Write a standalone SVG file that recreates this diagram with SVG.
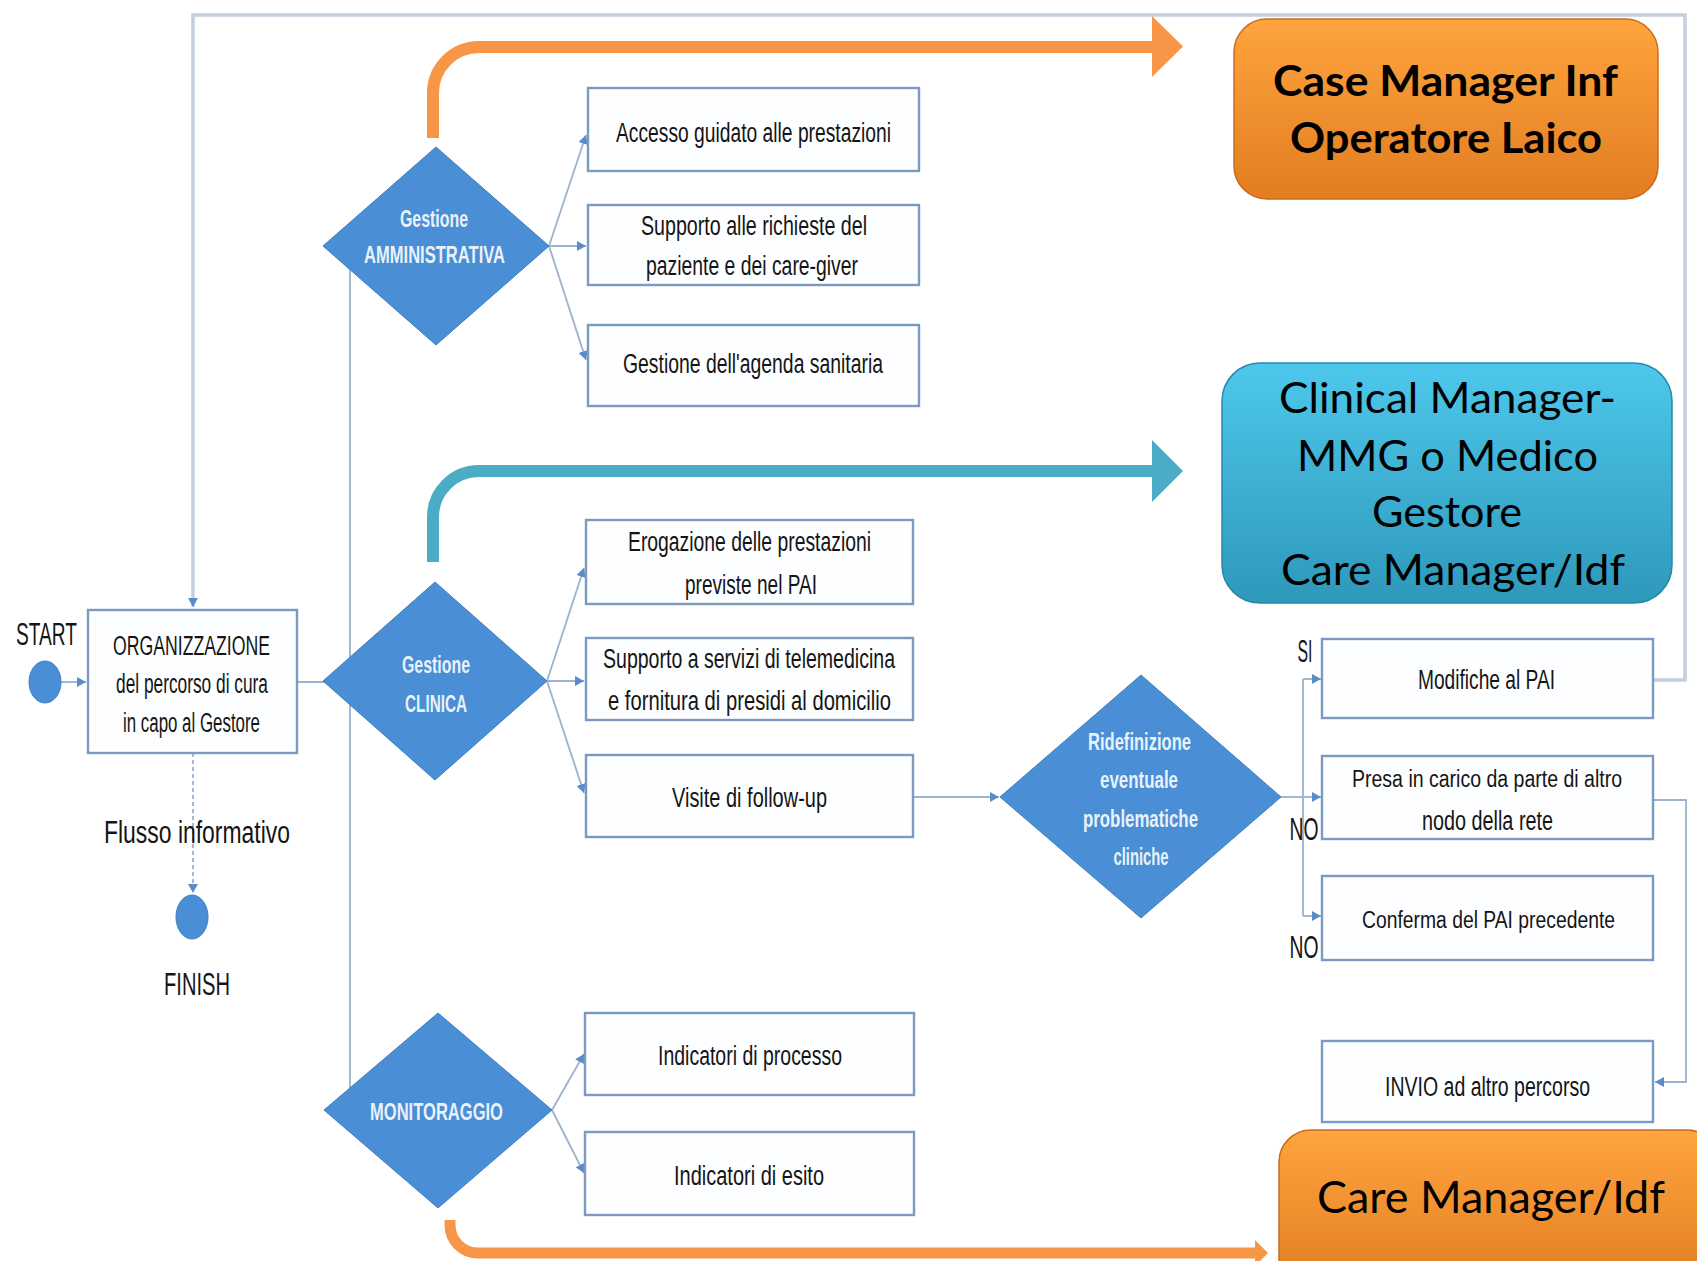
<svg xmlns="http://www.w3.org/2000/svg" width="1697" height="1261" viewBox="0 0 1697 1261">
<style>
.box{fill:#FDFEFF;stroke:#7C9AC0;stroke-width:2.4}
.t{font-family:"Liberation Sans",Arial,sans-serif;font-size:27px;fill:#151515;text-anchor:middle}
.lbl{font-family:"Liberation Sans",Arial,sans-serif;font-size:31px;fill:#151515;text-anchor:middle}
.dt{font-family:"Liberation Sans",Arial,sans-serif;font-size:23px;font-weight:bold;fill:#FFFFFF;text-anchor:middle;fill-opacity:0.9}
.dia{fill:#4A8FD5;stroke:#3F7EC2;stroke-width:1}
.dot{fill:#4A8FD5;stroke:#3F7EC2;stroke-width:1}
.conn{fill:none;stroke:#9BB2D0;stroke-width:1.8}
.loop{fill:none;stroke:#C3CFDD;stroke-width:3.5}
.big{font-family:Lato,"Open Sans",sans-serif;font-size:42px;fill:#000;text-anchor:middle}
</style>
<defs>
<marker id="ah" markerUnits="userSpaceOnUse" markerWidth="9" markerHeight="10" refX="9" refY="5" orient="auto">
<path d="M0,0 L9,5 L0,10 z" fill="#5A8CC8"/>
</marker>
<linearGradient id="gOr" x1="0" y1="0" x2="0" y2="1">
<stop offset="0" stop-color="#FFA43E"/>
<stop offset="1" stop-color="#E27D21"/>
</linearGradient>
<linearGradient id="gBl" x1="0" y1="0" x2="0" y2="1">
<stop offset="0" stop-color="#4DC8EC"/>
<stop offset="1" stop-color="#2E98BA"/>
</linearGradient>
</defs>
<rect width="1697" height="1261" fill="#FFFFFF"/>

<g id="connectors">
<path class="loop" d="M1653 680 H1685 V15 H193 V607" marker-end="url(#ah)"/>
<path class="conn" d="M61 682 H86" marker-end="url(#ah)"/>
<path class="conn" d="M193 753 V893" stroke-dasharray="4 3" marker-end="url(#ah)"/>
<path class="conn" d="M297 682 H330"/>
<path class="conn" d="M350 246 V1110"/>
<path class="conn" d="M549 246 L586 135" marker-end="url(#ah)"/>
<path class="conn" d="M549 246 H586" marker-end="url(#ah)"/>
<path class="conn" d="M549 246 L586 360" marker-end="url(#ah)"/>
<path class="conn" d="M547 681 L584 568" marker-end="url(#ah)"/>
<path class="conn" d="M547 681 H584" marker-end="url(#ah)"/>
<path class="conn" d="M547 681 L584 793" marker-end="url(#ah)"/>
<path class="conn" d="M913 797 H999" marker-end="url(#ah)"/>
<path class="conn" d="M1281 797 H1303"/>
<path class="conn" d="M1303 679 V916"/>
<path class="conn" d="M1303 679 H1321" marker-end="url(#ah)"/>
<path class="conn" d="M1303 797 H1321" marker-end="url(#ah)"/>
<path class="conn" d="M1303 916 H1321" marker-end="url(#ah)"/>
<path class="conn" d="M1653 800 H1686 V1082 H1655" marker-end="url(#ah)"/>
<path class="conn" d="M552 1110 L584 1054" marker-end="url(#ah)"/>
<path class="conn" d="M552 1110 L584 1173" marker-end="url(#ah)"/>
<path d="M433 138 V93 A46 46 0 0 1 479 47 H1156" fill="none" stroke="#F79646" stroke-width="12"/>
<polygon points="1152,16 1183,46.5 1152,77" fill="#F79646"/>
<path d="M433 562 V517 A46 46 0 0 1 479 471 H1156" fill="none" stroke="#4BACC6" stroke-width="12"/>
<polygon points="1152,440 1183,471 1152,502" fill="#4BACC6"/>
<path d="M450 1220 V1225 A28 28 0 0 0 478 1253 H1258" fill="none" stroke="#F79646" stroke-width="11"/>
<polygon points="1255,1240 1268,1253 1255,1266" fill="#F79646"/>
</g>

<g id="branch-labels">
<text class="lbl" x="1305" y="662" textLength="15" lengthAdjust="spacingAndGlyphs">SI</text>
<text class="lbl" x="1304" y="840" textLength="29" lengthAdjust="spacingAndGlyphs">NO</text>
<text class="lbl" x="1304" y="958" textLength="29" lengthAdjust="spacingAndGlyphs">NO</text>
</g>

<g id="start">
<ellipse class="dot" cx="45" cy="682" rx="16" ry="21"/>
<text class="lbl" x="46.5" y="645" textLength="61" lengthAdjust="spacingAndGlyphs">START</text>
</g>
<g id="organizzazione">
<rect class="box" x="88" y="610" width="209" height="143"/>
<text class="t" x="191.5" y="655" textLength="157" lengthAdjust="spacingAndGlyphs">ORGANIZZAZIONE</text>
<text class="t" x="192" y="693" textLength="152" lengthAdjust="spacingAndGlyphs">del percorso di cura</text>
<text class="t" x="191.5" y="732" textLength="137" lengthAdjust="spacingAndGlyphs">in capo al Gestore</text>
</g>
<g id="flusso">
<text class="lbl" x="197" y="843" textLength="186" lengthAdjust="spacingAndGlyphs">Flusso informativo</text>
</g>
<g id="finish">
<ellipse class="dot" cx="192" cy="917" rx="16" ry="22"/>
<text class="lbl" x="197" y="995" textLength="66" lengthAdjust="spacingAndGlyphs">FINISH</text>
</g>

<g id="gestione-amministrativa">
<polygon class="dia" points="436,147 549,246 436,345 323,246"/>
<text class="dt" x="434" y="227" textLength="68" lengthAdjust="spacingAndGlyphs">Gestione</text>
<text class="dt" x="434.5" y="263" textLength="141" lengthAdjust="spacingAndGlyphs">AMMINISTRATIVA</text>
</g>
<g id="accesso">
<rect class="box" x="588" y="88" width="331" height="83"/>
<text class="t" x="753.5" y="142" textLength="275" lengthAdjust="spacingAndGlyphs">Accesso guidato alle prestazioni</text>
</g>
<g id="supporto-richieste">
<rect class="box" x="588" y="205" width="331" height="80"/>
<text class="t" x="754" y="235" textLength="226" lengthAdjust="spacingAndGlyphs">Supporto alle richieste del</text>
<text class="t" x="752" y="275" textLength="212" lengthAdjust="spacingAndGlyphs">paziente e dei care-giver</text>
</g>
<g id="agenda">
<rect class="box" x="588" y="325" width="331" height="81"/>
<text class="t" x="753" y="373" textLength="260" lengthAdjust="spacingAndGlyphs">Gestione dell'agenda sanitaria</text>
</g>

<g id="gestione-clinica">
<polygon class="dia" points="435,582 547,681 435,780 323,681"/>
<text class="dt" x="436" y="673" textLength="68" lengthAdjust="spacingAndGlyphs">Gestione</text>
<text class="dt" x="436" y="712" textLength="62" lengthAdjust="spacingAndGlyphs">CLINICA</text>
</g>
<g id="erogazione">
<rect class="box" x="586" y="520" width="327" height="84"/>
<text class="t" x="749.5" y="551" textLength="243" lengthAdjust="spacingAndGlyphs">Erogazione delle prestazioni</text>
<text class="t" x="751" y="594" textLength="132" lengthAdjust="spacingAndGlyphs">previste nel PAI</text>
</g>
<g id="telemedicina">
<rect class="box" x="586" y="638" width="327" height="82"/>
<text class="t" x="749" y="668" textLength="292" lengthAdjust="spacingAndGlyphs">Supporto a servizi di telemedicina</text>
<text class="t" x="749.5" y="710" textLength="283" lengthAdjust="spacingAndGlyphs">e fornitura di presidi al domicilio</text>
</g>
<g id="follow-up">
<rect class="box" x="586" y="755" width="327" height="82"/>
<text class="t" x="749.5" y="807" textLength="155" lengthAdjust="spacingAndGlyphs">Visite di follow-up</text>
</g>

<g id="monitoraggio">
<polygon class="dia" points="438,1013 552,1110 438,1208 324,1110"/>
<text class="dt" x="436.5" y="1120" textLength="133" lengthAdjust="spacingAndGlyphs">MONITORAGGIO</text>
</g>
<g id="processo">
<rect class="box" x="585" y="1013" width="329" height="82"/>
<text class="t" x="750" y="1065" textLength="184" lengthAdjust="spacingAndGlyphs">Indicatori di processo</text>
</g>
<g id="esito">
<rect class="box" x="585" y="1132" width="329" height="83"/>
<text class="t" x="749" y="1185" textLength="150" lengthAdjust="spacingAndGlyphs">Indicatori di esito</text>
</g>

<g id="ridefinizione">
<polygon class="dia" points="1141,675 1281,797 1141,918 1000,797"/>
<text class="dt" x="1139.5" y="750" textLength="103" lengthAdjust="spacingAndGlyphs">Ridefinizione</text>
<text class="dt" x="1139" y="788" textLength="78" lengthAdjust="spacingAndGlyphs">eventuale</text>
<text class="dt" x="1140.5" y="827" textLength="115" lengthAdjust="spacingAndGlyphs">problematiche</text>
<text class="dt" x="1141" y="865" textLength="55" lengthAdjust="spacingAndGlyphs">cliniche</text>
</g>
<g id="modifiche">
<rect class="box" x="1322" y="639" width="331" height="79"/>
<text class="t" x="1486.5" y="689" textLength="137" lengthAdjust="spacingAndGlyphs">Modifiche al PAI</text>
</g>
<g id="presa-in-carico">
<rect class="box" x="1322" y="756" width="331" height="83"/>
<text class="t" x="1487" y="787" style="font-size:23px" textLength="270" lengthAdjust="spacingAndGlyphs">Presa in carico da parte di altro</text>
<text class="t" x="1487.5" y="830" textLength="131" lengthAdjust="spacingAndGlyphs">nodo della rete</text>
</g>
<g id="conferma">
<rect class="box" x="1322" y="876" width="331" height="84"/>
<text class="t" x="1488.5" y="928" style="font-size:23px" textLength="253" lengthAdjust="spacingAndGlyphs">Conferma del PAI precedente</text>
</g>
<g id="invio">
<rect class="box" x="1322" y="1041" width="331" height="81"/>
<text class="t" x="1487.5" y="1096" textLength="205" lengthAdjust="spacingAndGlyphs">INVIO ad altro percorso</text>
</g>

<g id="case-manager">
<rect x="1234" y="19" width="424" height="180" rx="33" fill="url(#gOr)" stroke="#C96C1C" stroke-width="1.5"/>
<text class="big" x="1445.5" y="96" font-weight="bold" textLength="345" lengthAdjust="spacingAndGlyphs">Case Manager Inf</text>
<text class="big" x="1446" y="153" font-weight="bold" textLength="312" lengthAdjust="spacingAndGlyphs">Operatore Laico</text>
</g>
<g id="clinical-manager">
<rect x="1222" y="363" width="450" height="240" rx="38" fill="url(#gBl)" stroke="#2888A8" stroke-width="1.5"/>
<text class="big" x="1447.5" y="413" textLength="337" lengthAdjust="spacingAndGlyphs">Clinical Manager-</text>
<text class="big" x="1447.5" y="471" textLength="301" lengthAdjust="spacingAndGlyphs">MMG o Medico</text>
<text class="big" x="1447" y="527" textLength="150" lengthAdjust="spacingAndGlyphs">Gestore</text>
<text class="big" x="1453" y="585" textLength="344" lengthAdjust="spacingAndGlyphs">Care Manager/Idf</text>
</g>
<g id="care-manager">
<rect x="1279" y="1130" width="440" height="160" rx="32" fill="url(#gOr)" stroke="#C96C1C" stroke-width="1.5"/>
<text class="big" x="1491" y="1213" style="font-size:44px" textLength="348" lengthAdjust="spacingAndGlyphs">Care Manager/Idf</text>
</g>
</svg>
